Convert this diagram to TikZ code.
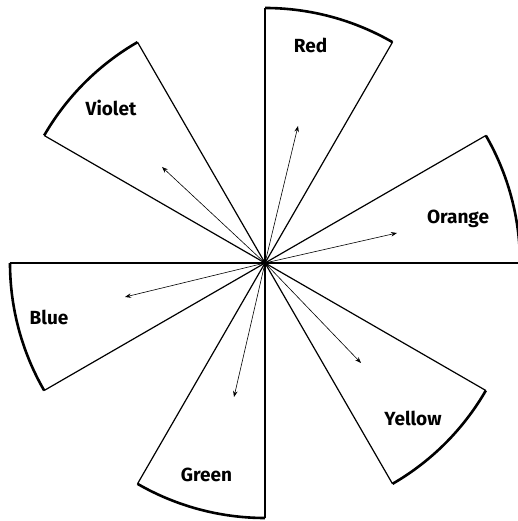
\documentclass[tikz,border=0pt]{standalone}
\usepackage{fontspec}
\setmainfont{Fira Sans}
\usetikzlibrary{arrows.meta}

\begin{document}
\begin{tikzpicture}[
    x=1pt, y=1pt,
    >=Stealth,
    edge/.style={line width=1.2pt},
    rim/.style={line width=2.6pt},
    ray/.style={line width=0.6pt, -{Stealth[length=6pt, width=4.5pt]}},
    colour name/.style={font=\bfseries\fontsize{19}{19}\selectfont, anchor=base},
]

\useasboundingbox (0,0) rectangle (518,521);

% --- Centre and radius ---
\def\R{255}
\coordinate (O) at (265,258);

% --- Six sectors, each 30 degrees wide ---
\foreach \a in {0,60,120,180,240,300} {
    \draw[edge] (O) -- ++(\a:\R);
    \draw[edge] (O) -- ++(\a+30:\R);
    \draw[rim] (O) ++(\a:\R) arc[start angle=\a, delta angle=30, radius=\R];
}

% --- Arrow tips ---
\coordinate (tipRed)    at (298,395);
\coordinate (tipOrange) at (397,288);
\coordinate (tipYellow) at (361,158);
\coordinate (tipGreen)  at (234,124);
\coordinate (tipBlue)   at (125,224);
\coordinate (tipViolet) at (162,354);

\foreach \c in {Red,Orange,Yellow,Green,Blue,Violet} {
    \draw[ray] (O) -- (tip\c);
}

% --- Colour names ---
\node[colour name] (red)    at (310.5,468) {Red};
\node[colour name] (orange) at (458,297)   {Orange};
\node[colour name] (yellow) at (413,95)    {Yellow};
\node[colour name] (green)  at (206.5,39)  {Green};
\node[colour name] (blue)   at (49,196)    {Blue};
\node[colour name] (violet) at (111,405)   {Violet};

\end{tikzpicture}
\end{document}
